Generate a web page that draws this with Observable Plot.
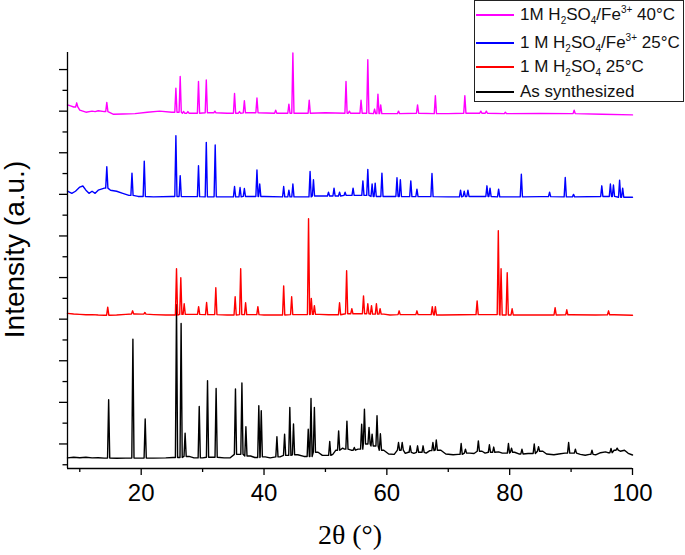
<!DOCTYPE html>
<html><head><meta charset="utf-8">
<script src="https://cdn.jsdelivr.net/npm/d3@7"></script>
<script src="https://cdn.jsdelivr.net/npm/@observablehq/plot@0.6"></script>
<style>
body{margin:0;background:#fff;}
#wrap{position:relative;width:685px;height:555px;font-family:"Liberation Sans",Arial,sans-serif;}
#legend{position:absolute;left:474px;top:0;width:210px;height:102px;border:1px solid #222;background:#fff;box-sizing:border-box;}
.row{position:absolute;left:0;height:22px;display:flex;align-items:center;font-size:17px;color:#111;white-space:nowrap;}
.sw{width:38px;height:0;border-top:2px solid;margin-left:1px;margin-right:6px;}
.row sub{font-size:10px;vertical-align:-4px;line-height:0;}
.row sup{font-size:10px;vertical-align:7px;line-height:0;}
</style></head><body><div id="wrap"><div id="legend"></div></div>
<script>
// ---- data (2θ in degrees, intensity in arbitrary counts, stacked offsets as plotted) ----
const seriesNames = ["As synthesized", "1 M H2SO4 25°C", "1 M H2SO4/Fe3+ 25°C", "1M H2SO4/Fe3+ 40°C"];
const seriesColors = ["#000000", "#ff0000", "#0000ff", "#ff00ff"];
const legendOrder = [3, 2, 1, 0];
const legendHtml = [
  "As synthesized",
  "1 M H<sub>2</sub>SO<sub>4</sub> 25°C",
  "1 M H<sub>2</sub>SO<sub>4</sub>/Fe<sup>3+</sup> 25°C",
  "1M H<sub>2</sub>SO<sub>4</sub>/Fe<sup>3+</sup> 40°C"
];
const xMajorTicks = [20, 40, 60, 80, 100];
const xMinorTicks = [10, 30, 50, 70, 90];
const yMajorTicks = [1000, 3000, 5000, 7000, 9000, 11000, 13000, 15000, 17000, 19000];
const yMinorTicks = [0, 2000, 4000, 6000, 8000, 10000, 12000, 14000, 16000, 18000];

const blackBase = [[8,330],[9,360],[10,340],[11,360],[12,330],[13,340],[14,320],[16,310],[17.5,320],[19.5,320],[22,320],[24,330],[25.2,350],[27.8,400],[28.6,330],[30,330],[31.5,360],[33.5,330],[34.5,340],[36,500],[37.8,420],[38.5,350],[40.2,380],[41,330],[42.6,380],[43.8,450],[45.5,480],[46.5,400],[48.8,600],[49.5,450],[50.2,450],[51.2,500],[51.7,700],[52.8,800],[53.1,750],[54.2,700],[55.3,750],[56.8,1000],[57.9,900],[59.5,700],[60.3,520],[61.2,500],[62.2,700],[63,550],[63.5,600],[64.4,550],[65.5,600],[66.4,560],[67,680],[68.8,700],[69.6,520],[70.8,480],[71.6,500],[73.5,560],[74.2,540],[75.5,650],[76,560],[77,600],[78.2,620],[78.8,560],[80.8,600],[81.5,520],[83,540],[85.4,650],[86,520],[87.2,480],[88,520],[89,560],[90,560],[91.5,500],[92.3,460],[93,500],[94,480],[94.8,580],[95.6,620],[96,580],[97,700],[98,650],[98.7,700],[99.3,550],[100,470]];
const blackPeaks = [[14.7,3125],[18.65,6040],[20.65,2200],[25.75,7700],[26.5,6790],[27.15,1520],[29.45,2800],[30.8,4040],[32.2,3670],[35.35,3640],[36.4,3930],[37.05,1830],[39.15,2840],[39.55,2600],[42.1,1350],[43.35,1470],[44.2,2750],[44.8,1960],[47.2,1710],[47.65,3190],[48.2,2750],[50.7,1120],[52.15,1630],[53.5,2100],[54.7,830],[55.9,1950],[56.35,2670],[57.1,1790],[57.6,1470],[58.4,2360],[58.95,1490],[61.9,1070],[62.5,1070],[63.8,910],[65,910],[65.9,910],[67.5,1070],[68.05,1190],[72.1,1020],[72.8,750],[74.9,1150],[76.7,960],[77.4,850],[79.8,1020],[80.3,800],[82,750],[84,1000],[84.7,870],[89.6,1070],[90.7,750],[93.4,700],[96.5,780],[97.5,800]];

const redBase = [[8,7280],[9,7250],[10,7230],[11,7210],[12,7220],[13,7200],[14,7190],[16,7200],[17.5,7230],[19,7250],[20,7240],[22,7220],[24,7200],[27.8,7230],[31.5,7220],[34,7200],[38,7220],[40,7200],[42,7200],[46,7220],[49,7230],[50.5,7210],[55,7260],[59.5,7240],[60.5,7200],[63,7220],[66,7220],[69,7200],[72,7210],[76,7220],[81,7200],[85,7200],[90,7210],[94,7200],[97,7210],[100,7190]];
const redPeaks = [[14.55,7580],[18.6,7400],[20.6,7320],[25.75,9420],[26.45,8990],[27.0,7740],[29.35,7600],[30.65,7800],[32.15,8510],[35.3,8080],[36.2,9420],[37.0,7790],[39.0,7600],[43.2,8600],[44.5,8080],[47.25,11830],[47.7,8000],[48.2,7650],[52.3,7790],[53.45,9330],[54.3,7500],[56.2,8120],[56.9,7740],[57.5,7650],[58.3,7740],[58.9,7500],[62,7400],[64.9,7400],[67.4,7600],[67.9,7600],[74.7,7880],[78.15,11250],[78.6,9420],[79.6,9230],[80.4,7500],[87.4,7550],[89.3,7450],[96.1,7400]];

const blueBase = [[8,13150],[8.7,13050],[9.3,13150],[10,13350],[10.5,13400],[11,13200],[11.5,13050],[12,13150],[12.5,13050],[13,13200],[13.5,13250],[14,13300],[15,13200],[16,13150],[17,13050],[18,12950],[19.5,12900],[22,12880],[25,12900],[28,12890],[33,12880],[40,12900],[45,12880],[50,12920],[55,12950],[60,12900],[65,12890],[70,12880],[75,12900],[80,12880],[85,12890],[90,12880],[95,12900],[100,12860]];
const bluePeaks = [[14.4,14330],[18.5,14020],[20.5,14600],[25.65,15820],[26.35,13900],[29.33,14380],[30.6,15500],[32.05,15370],[35.2,13380],[36.1,13330],[36.8,13280],[38.85,14170],[39.3,13500],[43.2,13380],[44.05,13200],[44.7,13500],[47.5,14100],[48.05,13700],[50.5,13100],[51.4,13300],[52.3,13100],[53.2,13100],[54.5,13300],[56.1,13650],[56.9,14200],[57.6,13500],[58.1,13540],[59.2,14020],[61.65,13800],[62.2,13700],[63.9,13650],[64.9,13250],[67.35,14000],[72,13200],[72.6,13150],[73.2,13200],[76.3,13410],[76.8,13300],[78.2,13250],[81.9,13970],[86.5,13100],[89.05,13810],[90.4,13000],[95,13410],[96.4,13500],[96.9,13450],[97.9,13680],[98.4,13300]];

const pinkBase = [[8,17300],[8.5,17250],[9,17200],[10,17050],[11,16950],[12,17000],[12.5,16980],[13,17020],[14,16980],[15.5,16850],[17,16860],[19,16880],[21,16950],[23,17000],[25,16950],[28,16900],[31,16920],[34,16900],[38,16920],[42,16900],[46,16900],[50,16920],[55,16900],[60,16880],[65,16900],[70,16880],[75,16900],[80,16880],[85,16890],[90,16880],[95,16850],[100,16820]];
const pinkPeaks = [[9.5,17400],[14.4,17420],[25.65,18100],[26.35,18670],[26.9,16990],[27.6,16980],[29.33,18430],[30.6,18500],[32,17000],[35.2,17850],[36,16980],[36.8,17500],[38.85,17630],[41.9,17050],[44.05,17340],[44.7,19800],[47.36,17530],[53.35,18430],[53.9,17000],[55.8,17530],[56.9,19470],[58,17100],[58.55,17820],[59.0,17300],[61.9,17000],[65,17300],[67.9,17740],[72.7,17740],[75.3,17000],[76.2,17000],[79.3,16950],[90.5,17050]];

const bases = [blackBase, redBase, blueBase, pinkBase];
const peaks = [blackPeaks, redPeaks, bluePeaks, pinkPeaks];

// ---- build profile tables (baseline points + narrow peak spikes) ----
const hw = 0.18;
function profile(base, pk) {
  const foot = x => d3.least(base, b => Math.abs(b[0] - x))[1];
  const pts = base.filter(([x]) => !pk.some(([p]) => Math.abs(x - p) <= hw)).map(([x, y]) => ({x, y}));
  for (const [p, top] of pk) {
    const f = foot(p);
    pts.push({x: p - hw, y: f}, {x: p, y: top}, {x: p + hw, y: f});
  }
  return pts.sort((a, b) => a.x - b.x);
}
const profiles = bases.map((b, i) => profile(b, peaks[i]));

const chart = Plot.plot({
  width: 685, height: 555,
  marginLeft: 67, marginRight: 53, marginTop: 52, marginBottom: 87,
  x: {domain: [8, 100]},
  y: {domain: [-180, 19820]},
  style: {fontFamily: "'Liberation Sans', Arial, sans-serif", color: "#000", background: "#fff"},
  marks: [
    ...profiles.map((p, i) => Plot.line(p, {x: "x", y: "y", stroke: seriesColors[i], strokeWidth: 1.4})),
    Plot.axisX({ticks: xMajorTicks, tickSize: 7, tickPadding: 8, fontSize: 24, strokeWidth: 1.3, label: null}),
    Plot.axisX({ticks: xMinorTicks, tickSize: 4, tickFormat: () => "", strokeWidth: 1.3, label: null}),
    Plot.axisY({ticks: yMajorTicks, tickSize: 8, tickFormat: () => "", strokeWidth: 1.3, label: null}),
    Plot.axisY({ticks: yMinorTicks, tickSize: 4.5, tickFormat: () => "", strokeWidth: 1.3, label: null}),
    Plot.ruleX([8], {stroke: "#000", strokeWidth: 1.3}),
    Plot.ruleY([-180], {stroke: "#000", strokeWidth: 1.3}),
    Plot.text(["Intensity (a.u.)"], {frameAnchor: "left", textAnchor: "middle", lineAnchor: "middle", rotate: -90, dx: -52, dy: -11, fontSize: 28, fill: "#000"}),
    Plot.text(["2θ (°)"], {frameAnchor: "bottom", textAnchor: "middle", lineAnchor: "middle", dy: 67, fontSize: 28, fontFamily: "'Liberation Serif', 'Times New Roman', serif", fill: "#000"})
  ]
});
document.getElementById("wrap").prepend(chart);

const legend = document.getElementById("legend");
const rowTops = [3, 31, 55, 80];
legendOrder.forEach((si, k) => {
  const r = document.createElement("div");
  r.className = "row";
  r.style.top = rowTops[k] + "px";
  r.innerHTML = `<span class="sw" style="border-color:${seriesColors[si]}"></span><span>${legendHtml[si]}</span>`;
  legend.appendChild(r);
});
</script></body></html>
